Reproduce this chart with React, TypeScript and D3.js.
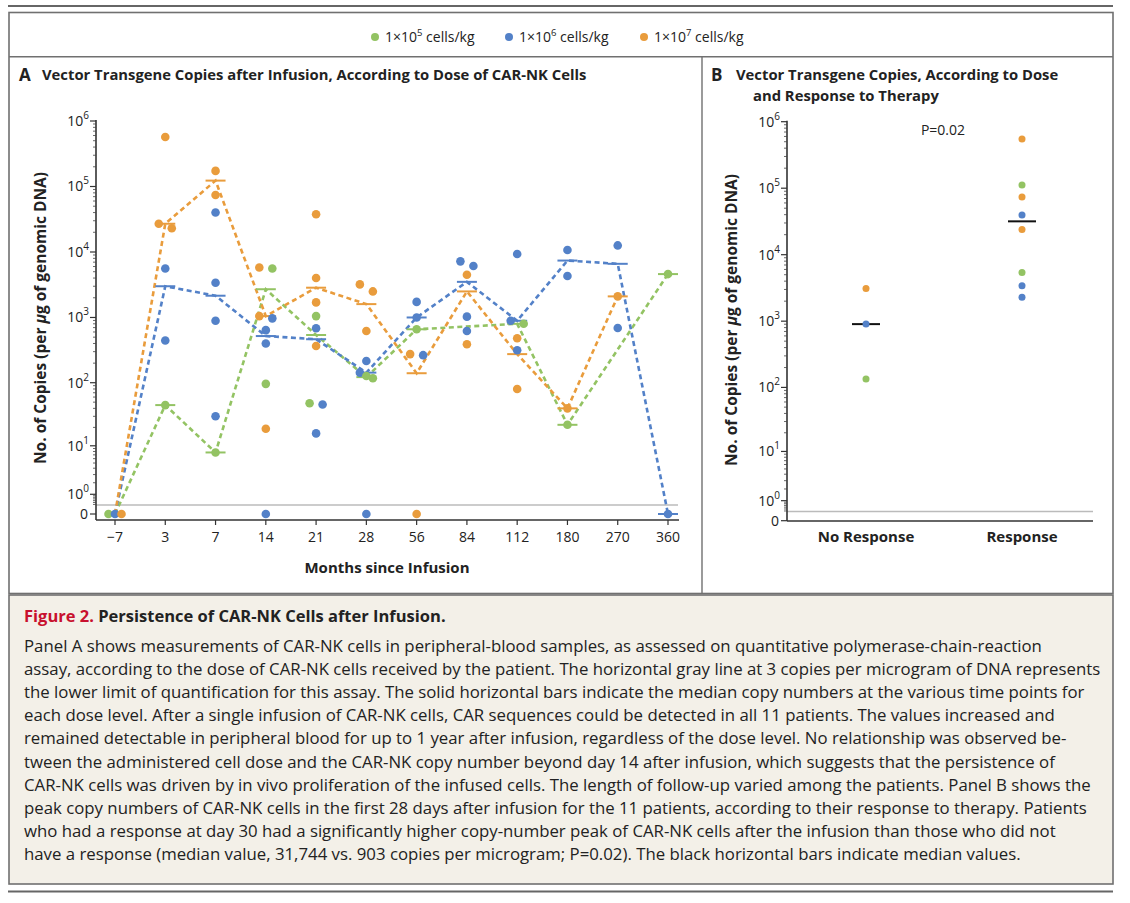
import * as d3 from 'd3'

const FONT = '"Open Sans", "Noto Sans", sans-serif'
const GREEN = '#93c363'
const BLUE = '#5381c8'
const ORANGE = '#e99c3c'

// Panel A categories (days after infusion, shown as ordinal positions)
const DAYS = [-7, 3, 7, 14, 21, 28, 56, 84, 112, 180, 270, 360]

// Dose levels: exponent of cells/kg
const DOSE_EXPONENTS = [5, 6, 7]
const DOSE_COLORS = [GREEN, BLUE, ORANGE]

// Individual measurements [day, copies per µg DNA]
const DOSE5_POINTS: [number, number][] = [
  [-7, 0], [3, 45], [7, 7.7], [14, 5600], [14, 96], [21, 1050], [21, 48],
  [28, 127], [28, 117], [56, 660], [112, 800], [180, 22], [360, 4600],
]
const DOSE6_POINTS: [number, number][] = [
  [-7, 0], [3, 5600], [3, 445], [7, 40000], [7, 3400], [7, 890], [7, 30],
  [14, 970], [14, 640], [14, 400], [14, 0], [21, 684], [21, 46], [21, 16],
  [28, 216], [28, 143], [28, 0], [56, 1730], [56, 1000], [56, 265],
  [84, 7200], [84, 6100], [84, 1030], [84, 620], [112, 9300], [112, 890], [112, 315],
  [180, 10700], [180, 4300], [270, 12600], [270, 690], [360, 0],
]
const DOSE7_POINTS: [number, number][] = [
  [-7, 0], [3, 570000], [3, 27000], [3, 23000], [7, 173000], [7, 74000],
  [14, 5800], [14, 1050], [14, 19], [21, 37600], [21, 4000], [21, 1700], [21, 366],
  [28, 3200], [28, 2500], [28, 620], [56, 275], [56, 0], [84, 4500], [84, 390],
  [112, 480], [112, 80], [180, 40], [270, 2100],
]

// Median copy numbers per time point [day, median]
const DOSE5_MEDIANS: [number, number][] = [
  [-7, 0], [3, 45], [7, 7.7], [14, 2700], [21, 540], [28, 122], [56, 660],
  [112, 800], [180, 22], [360, 4600],
]
const DOSE6_MEDIANS: [number, number][] = [
  [-7, 0], [3, 3000], [7, 2150], [14, 520], [21, 465], [28, 143], [56, 1000],
  [84, 3500], [112, 890], [180, 7400], [270, 6600], [360, 0],
]
const DOSE7_MEDIANS: [number, number][] = [
  [-7, 0], [3, 27000], [7, 123000], [14, 1050], [21, 2850], [28, 1600], [56, 140],
  [84, 2500], [112, 275], [180, 40], [270, 2100],
]

// Panel B: peak copies in first 28 days [group, dose index, copies]
const GROUPS = ['No Response', 'Response']
const PEAK_POINTS: [string, number, number][] = [
  ['No Response', 2, 3100], ['No Response', 1, 903], ['No Response', 0, 134],
  ['Response', 2, 550000], ['Response', 0, 112000], ['Response', 2, 74000],
  ['Response', 1, 39500], ['Response', 2, 24000], ['Response', 0, 5400],
  ['Response', 1, 3400], ['Response', 1, 2300],
]
const GROUP_MEDIANS = [903, 31744]

const Y_EXPONENTS = [0, 1, 2, 3, 4, 5, 6]
const LLOQ_DRAWN = 0.37

const CAPTION = [
  'Panel A shows measurements of CAR-NK cells in peripheral-blood samples, as assessed on quantitative polymerase-chain-reaction',
  'assay, according to the dose of CAR-NK cells received by the patient. The horizontal gray line at 3 copies per microgram of DNA represents',
  'the lower limit of quantification for this assay. The solid horizontal bars indicate the median copy numbers at the various time points for',
  'each dose level. After a single infusion of CAR-NK cells, CAR sequences could be detected in all 11 patients. The values increased and',
  'remained detectable in peripheral blood for up to 1 year after infusion, regardless of the dose level. No relationship was observed be-',
  'tween the administered cell dose and the CAR-NK copy number beyond day 14 after infusion, which suggests that the persistence of',
  'CAR-NK cells was driven by in vivo proliferation of the infused cells. The length of follow-up varied among the patients. Panel B shows the',
  'peak copy numbers of CAR-NK cells in the first 28 days after infusion for the 11 patients, according to their response to therapy. Patients',
  'who had a response at day 30 had a significantly higher copy-number peak of CAR-NK cells after the infusion than those who did not',
  'have a response (median value, 31,744 vs. 903 copies per microgram; P=0.02). The black horizontal bars indicate median values.',
]

type Pt = { day: number; v: number; dose: number; py: number; dx: number }

// spread overlapping dots sideways at each time point
function dodge(points: { day: number; v: number; dose: number }[], y: (v: number) => number) {
  const out: Pt[] = []
  d3.group(points, (p) => p.day).forEach((arr) => {
    const sorted = arr.map((p) => ({ ...p, py: y(p.v), dx: 0 })).sort((a, b) => a.py - b.py || a.dose - b.dose)
    let cluster: Pt[] = []
    const flush = () => {
      const n = cluster.length
      cluster.forEach((p, i) => out.push({ ...p, dx: n > 1 ? ((i - (n - 1) / 2) * 13) / (n - 1) : 0 }))
      cluster = []
    }
    sorted.forEach((p) => {
      if (cluster.length && p.py - cluster[cluster.length - 1].py >= 8) flush()
      cluster.push(p)
    })
    flush()
  })
  return out
}

function YAxis({ x, y, bottom }: { x: number; y: d3.ScaleSymLog<number, number>; bottom: number }) {
  const minor: number[] = [0.4, 0.5, 0.6, 0.7, 0.8, 0.9]
  for (let k = 0; k < 6; k++) for (let m = 2; m < 10; m++) minor.push(m * Math.pow(10, k))
  return (
    <g fontFamily={FONT} fontSize={14} fill="#222">
      <line x1={x} x2={x} y1={y(1e6) - 1} y2={bottom} stroke="#333" strokeWidth={1.6} />
      {minor.map((v) => (
        <line key={v} x1={x - 3} x2={x} y1={y(v)} y2={y(v)} stroke="#444" strokeWidth={0.8} />
      ))}
      <line x1={x - 6} x2={x} y1={y(0)} y2={y(0)} stroke="#333" strokeWidth={1.2} />
      <text x={x - 8} y={y(0) + 5} textAnchor="end">0</text>
      {Y_EXPONENTS.map((k) => (
        <g key={k}>
          <line x1={x - 6} x2={x} y1={y(Math.pow(10, k))} y2={y(Math.pow(10, k))} stroke="#333" strokeWidth={1.2} />
          <text x={x - 7} y={y(Math.pow(10, k)) + 5} textAnchor="end">
            10<tspan dy={-7} fontSize={10}>{k}</tspan>
          </text>
        </g>
      ))}
    </g>
  )
}

function YTitle({ x, cy }: { x: number; cy: number }) {
  return (
    <text transform={`translate(${x},${cy}) rotate(-90)`} textAnchor="middle" fontFamily={FONT}
      fontSize={15.5} fontWeight={700} fill="#222">
      No. of Copies (per <tspan fontStyle="italic">μ</tspan>g of genomic DNA)
    </text>
  )
}

export default function App() {
  const xA = d3.scalePoint<number>().domain(DAYS).range([115, 668])
  const yA = d3.scaleSymlog().constant(1).domain([0, 1e6]).range([514, 121])
  const xB = d3.scalePoint<string>().domain(GROUPS).range([866, 1022])
  const yB = d3.scaleSymlog().constant(1).domain([0, 1e6]).range([520.7, 121.7])

  const series = [DOSE5_POINTS, DOSE6_POINTS, DOSE7_POINTS]
  const medians = [DOSE5_MEDIANS, DOSE6_MEDIANS, DOSE7_MEDIANS]
  const allPts = series.flatMap((s, dose) => s.map(([day, v]) => ({ day, v, dose })))
  const dots = dodge(allPts, yA)
  const line = d3.line<[number, number]>().x((d) => xA(d[0])!).y((d) => yA(d[1]))
  const axisYA = 520
  const axisYB = 521

  return (
    <svg width={1130} height={903} style={{ position: 'absolute', left: 0, top: 0, background: '#fff' }}>
      {/* frame */}
      <line x1={8} x2={1113} y1={6} y2={6} stroke="#666" strokeWidth={2} />
      <rect x={9} y={12.5} width={1104} height={581} fill="none" stroke="#707070" strokeWidth={1.6} />
      <line x1={9} x2={1113} y1={56.7} y2={56.7} stroke="#707070" strokeWidth={1.4} />
      <line x1={702} x2={702} y1={56.7} y2={593.5} stroke="#707070" strokeWidth={1.4} />

      {/* legend */}
      <g fontFamily={FONT} fontSize={14} fill="#222">
        {DOSE_EXPONENTS.map((e, i) => {
          const lx = [375, 509, 644][i]
          return (
            <g key={e}>
              <circle cx={lx} cy={37} r={4} fill={DOSE_COLORS[i]} />
              <text x={lx + 10} y={42}>
                1×10<tspan dy={-6} fontSize={9.5}>{e}</tspan><tspan dy={6}> cells/kg</tspan>
              </text>
            </g>
          )
        })}
      </g>

      {/* panel titles */}
      <g fontFamily={FONT} fontWeight={700} fill="#222">
        <text x={19} y={81} fontSize={17}>A</text>
        <text x={42} y={80} fontSize={14.8}>Vector Transgene Copies after Infusion, According to Dose of CAR-NK Cells</text>
        <text x={711} y={81} fontSize={17}>B</text>
        <text x={736} y={80} fontSize={14.8}>Vector Transgene Copies, According to Dose</text>
        <text x={753} y={101} fontSize={14.8}>and Response to Therapy</text>
      </g>

      {/* panel A */}
      <line x1={96} x2={678} y1={yA(LLOQ_DRAWN)} y2={yA(LLOQ_DRAWN)} stroke="#bbb" strokeWidth={1.5} />
      <YAxis x={96} y={yA} bottom={axisYA} />
      <line x1={96} x2={679} y1={axisYA} y2={axisYA} stroke="#333" strokeWidth={1.6} />
      <g fontFamily={FONT} fontSize={14} fill="#222" textAnchor="middle">
        {DAYS.map((d) => (
          <g key={d}>
            <line x1={xA(d)} x2={xA(d)} y1={axisYA} y2={axisYA + 5} stroke="#333" strokeWidth={1.2} />
            <text x={xA(d)} y={axisYA + 22}>{d < 0 ? `−${-d}` : d}</text>
          </g>
        ))}
      </g>
      <text x={387} y={573} textAnchor="middle" fontFamily={FONT} fontSize={15} fontWeight={700} fill="#222">
        Months since Infusion
      </text>
      <YTitle x={46} cy={318} />

      {medians.map((m, i) => (
        <path key={`l${i}`} d={line(m) ?? ''} fill="none" stroke={DOSE_COLORS[i]} strokeWidth={2.6}
          strokeDasharray="5 3.5" />
      ))}
      {medians.map((m, i) =>
        m.map(([day, v]) => (
          <line key={`m${i}-${day}`} x1={xA(day)! - 10} x2={xA(day)! + 10} y1={yA(v)} y2={yA(v)}
            stroke={DOSE_COLORS[i]} strokeWidth={2} />
        )),
      )}
      {dots.map((p, i) => (
        <circle key={i} cx={xA(p.day)! + p.dx} cy={p.py} r={4.3} fill={DOSE_COLORS[p.dose]} />
      ))}

      {/* panel B */}
      <line x1={787} x2={1093} y1={yB(LLOQ_DRAWN)} y2={yB(LLOQ_DRAWN)} stroke="#bbb" strokeWidth={1.5} />
      <YAxis x={787} y={yB} bottom={axisYB} />
      <line x1={787} x2={1093} y1={axisYB} y2={axisYB} stroke="#333" strokeWidth={1.6} />
      <g fontFamily={FONT} fontSize={15} fontWeight={700} fill="#222" textAnchor="middle">
        {GROUPS.map((g) => (
          <text key={g} x={xB(g)} y={542}>{g}</text>
        ))}
      </g>
      <YTitle x={737} cy={320} />
      <text x={943} y={135} textAnchor="middle" fontFamily={FONT} fontSize={14} fill="#222">P=0.02</text>
      {GROUP_MEDIANS.map((m, i) => (
        <line key={i} x1={xB(GROUPS[i])! - 14} x2={xB(GROUPS[i])! + 14} y1={yB(m)} y2={yB(m)}
          stroke="#111" strokeWidth={2} />
      ))}
      {PEAK_POINTS.map(([g, dose, v], i) => (
        <circle key={i} cx={xB(g)} cy={yB(v)} r={3.5} fill={DOSE_COLORS[dose]} />
      ))}

      {/* caption */}
      <rect x={9} y={595} width={1104} height={289} fill="#f3f0e8" stroke="#707070" strokeWidth={1.6} />
      <text x={24} y={622} fontFamily={FONT} fontSize={16.5} fontWeight={700}>
        <tspan fill="#c8102e">Figure 2.</tspan>
        <tspan fill="#222"> Persistence of CAR-NK Cells after Infusion.</tspan>
      </text>
      <g fontFamily={FONT} fontSize={16.8} fill="#222">
        {CAPTION.map((t, i) => (
          <text key={i} x={24} y={652 + i * 23.1}>{t}</text>
        ))}
      </g>
      <line x1={8} x2={1113} y1={891.5} y2={891.5} stroke="#666" strokeWidth={2} />
    </svg>
  )
}
